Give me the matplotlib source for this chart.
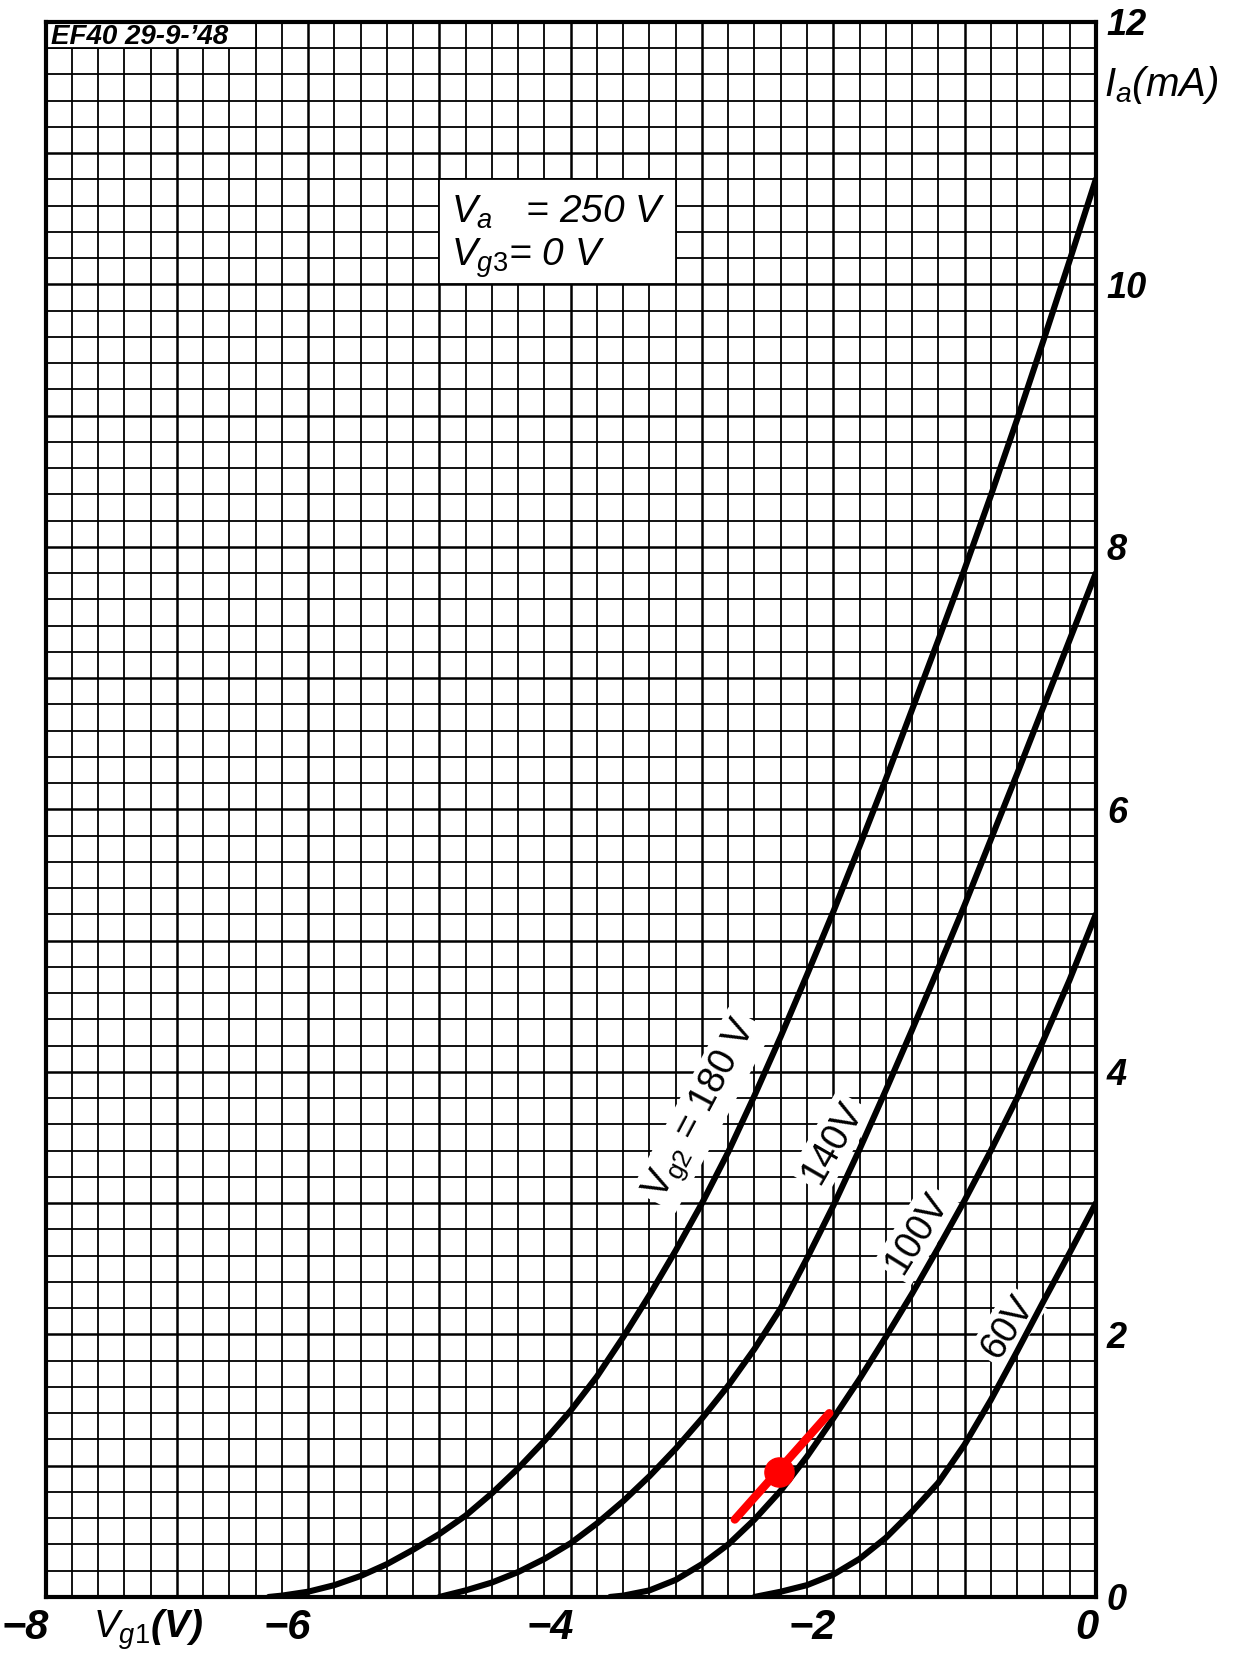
import numpy as np
import matplotlib.pyplot as plt
from matplotlib.ticker import MultipleLocator
from matplotlib.transforms import ScaledTranslation
from matplotlib.patches import Rectangle

# Fonts: plain sans, italic for the axis numbers
plt.rcParams['font.family'] = ['Liberation Sans', 'DejaVu Sans']
plt.rcParams['mathtext.fontset'] = 'custom'
plt.rcParams['mathtext.rm'] = 'Liberation Sans'
plt.rcParams['mathtext.it'] = 'Liberation Sans:italic'

### DATA ###
# Ia(Vg1) curves of the EF40 for four screen grid voltages
vg1_180 = [-6.3, -6.2, -6.0, -5.8, -5.6, -5.4, -5.2, -5.0, -4.8, -4.6, -4.4, -4.2,
           -4.0, -3.8, -3.6, -3.4, -3.2, -3.0, -2.8, -2.6, -2.4, -2.2, -2.0, -1.8,
           -1.6, -1.4, -1.2, -1.0, -0.8, -0.6, -0.4, -0.2, 0.0]
ia_180 = [0.0, 0.01, 0.04, 0.09, 0.16, 0.25, 0.36, 0.48, 0.62, 0.79, 0.98, 1.19,
          1.42, 1.68, 1.98, 2.30, 2.64, 3.00, 3.39, 3.82, 4.27, 4.74, 5.22, 5.72,
          6.23, 6.76, 7.29, 7.83, 8.39, 8.97, 9.57, 10.18, 10.8]

vg1_140 = [-5.0, -4.8, -4.6, -4.4, -4.2, -4.0, -3.8, -3.6, -3.4, -3.2, -3.0, -2.8,
           -2.6, -2.4, -2.2, -2.0, -1.8, -1.6, -1.4, -1.2, -1.0, -0.8, -0.6, -0.4,
           -0.2, 0.0]
ia_140 = [0.0, 0.05, 0.11, 0.19, 0.29, 0.41, 0.56, 0.73, 0.92, 1.13, 1.36, 1.61,
          1.89, 2.20, 2.58, 2.98, 3.41, 3.86, 4.32, 4.79, 5.27, 5.77, 6.27, 6.78,
          7.29, 7.8]

vg1_100 = [-3.7, -3.6, -3.4, -3.2, -3.0, -2.8, -2.6, -2.4, -2.2, -2.0, -1.8, -1.6,
           -1.4, -1.2, -1.0, -0.8, -0.6, -0.4, -0.2, 0.0]
ia_100 = [0.0, 0.01, 0.05, 0.13, 0.25, 0.40, 0.59, 0.81, 1.07, 1.36, 1.66, 1.98,
          2.31, 2.66, 3.02, 3.40, 3.80, 4.24, 4.70, 5.2]

vg1_60 = [-2.6, -2.4, -2.2, -2.0, -1.8, -1.6, -1.4, -1.2, -1.0, -0.8, -0.6, -0.4,
          -0.2, 0.0]
ia_60 = [0.0, 0.04, 0.09, 0.17, 0.29, 0.45, 0.65, 0.87, 1.16, 1.50, 1.87, 2.25,
         2.62, 3.0]

curves = [(vg1_180, ia_180), (vg1_140, ia_140), (vg1_100, ia_100), (vg1_60, ia_60)]

# curve labels: text, position (Vg1, Ia), angle
curve_labels = [r'$\mathregular{V_{g2}}$ = 180 V', '140V', '100V', '60V']
label_vg1 = [-3.0, -2.01, -1.36, -0.67]
label_ia = [3.71, 3.46, 2.77, 2.05]
label_rot = [62, 60, 58, 57]

# red tangent with working point on the 100 V curve
tangent_vg1 = [-2.75, -2.03]
tangent_ia = [0.59, 1.40]
point_vg1 = -2.41
point_ia = 0.95

x_ticks = np.arange(-8, 0.5, 1)
x_labels = ['\u22128', '', '\u22126', '', '\u22124', '', '\u22122', '', '0']
y_ticks = np.arange(0, 12.5, 1)
y_labels = [str(int(v)) if v % 2 == 0 else '' for v in y_ticks]


### PLOT ###
fig = plt.figure(figsize=(12.34, 16.64), dpi=100)
ax = fig.add_axes([0.037, 0.0403, 0.851, 0.9465])

ax.set_xlim(-8, 0)
ax.set_ylim(0, 12)

# graph paper grid
ax.xaxis.set_minor_locator(MultipleLocator(0.2))
ax.yaxis.set_minor_locator(MultipleLocator(0.2))
ax.set_xticks(x_ticks, x_labels, fontsize=30, fontstyle='italic', fontweight='bold',
              horizontalalignment='right')
ax.yaxis.tick_right()
ax.set_yticks(y_ticks, y_labels, fontsize=26, fontstyle='italic', fontweight='bold')
ax.tick_params(which='both', length=0)
ax.tick_params(axis='x', pad=8)
ax.tick_params(axis='y', pad=8)
ax.grid(which='major', color='black', lw=1.8)
ax.grid(which='minor', color='black', lw=1.3)
for sp in ax.spines.values():
    sp.set_linewidth(3)

# minus sign hangs left of the grid line, digit roughly under it
offset = ScaledTranslation(0.03, 0, fig.dpi_scale_trans)
for lbl in ax.xaxis.get_majorticklabels():
    lbl.set_transform(lbl.get_transform() + offset)

# curves
for vg, ia in curves:
    ax.plot(vg, ia, color='black', lw=4.4, solid_joinstyle='round',
            solid_capstyle='round', zorder=4)

for txt, x, y, r in zip(curve_labels, label_vg1, label_ia, label_rot):
    ax.text(x, y, txt, rotation=r, rotation_mode='anchor', ha='center', va='center',
            fontsize=27, zorder=3,
            bbox=dict(facecolor='white', edgecolor='none', pad=3))

# red mark
ax.plot(tangent_vg1, tangent_ia, color='#ff0000', lw=6, solid_capstyle='round', zorder=5)
ax.plot([point_vg1], [point_ia], 'o', color='#ff0000', ms=21, zorder=6)

# boxes with header and conditions
ax.add_patch(Rectangle((-8, 11.8), 1.6, 0.2, facecolor='white', edgecolor='black',
                       lw=1.3, zorder=2.5))
ax.text(-7.96, 11.885, 'EF40 29-9-\u201948', fontsize=20, fontstyle='italic',
        fontweight='bold', ha='left', va='center', zorder=3)

ax.add_patch(Rectangle((-5.0, 10.0), 1.8, 0.8, facecolor='white', edgecolor='black',
                       lw=1.3, zorder=2.5))
ax.text(-4.91, 10.55, r'$V_a$   = 250 V', fontsize=28, fontstyle='italic',
        ha='left', va='center', zorder=3)
ax.text(-4.91, 10.2, r'$V_{g3}$= 0 V', fontsize=28, fontstyle='italic',
        ha='left', va='center', zorder=3)

# axis titles
ax.text(0.06, 11.52, r'$I_a$(mA)', fontsize=29, fontstyle='italic',
        ha='left', va='center', clip_on=False)
ax.text(-7.64, -0.021, r'$V_{g1}$(V)', transform=ax.get_xaxis_transform(),
        fontsize=28, fontstyle='italic', fontweight='bold', ha='left', va='center',
        clip_on=False)

plt.savefig('out.png', dpi=100)
